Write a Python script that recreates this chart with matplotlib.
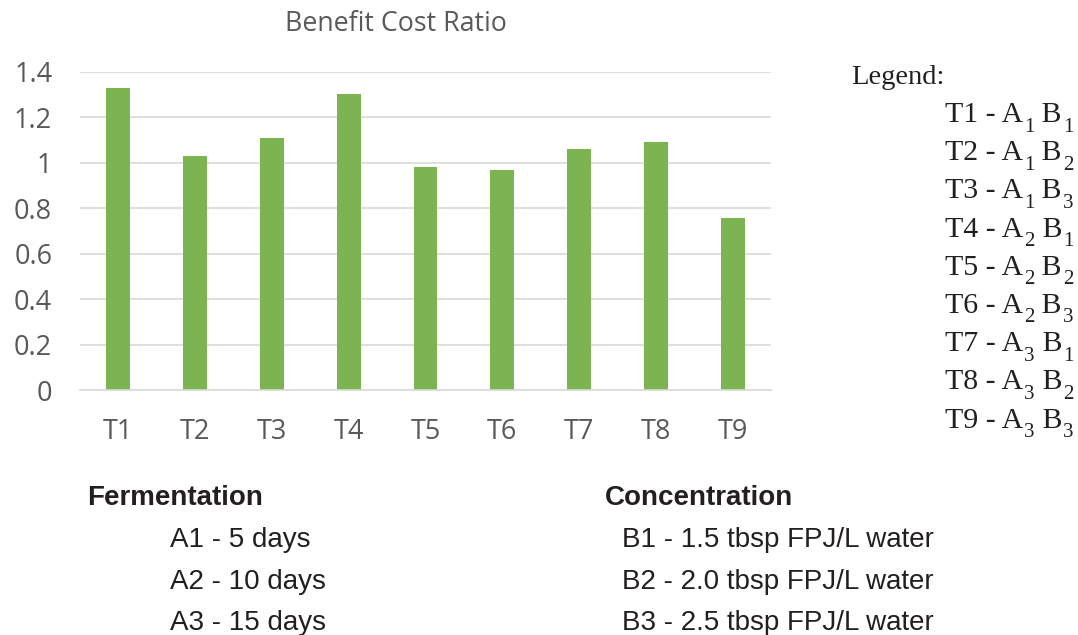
import matplotlib
matplotlib.use("Agg")
import matplotlib.pyplot as plt
import numpy as np

# --- data ---
treatments = ["T1", "T2", "T3", "T4", "T5", "T6", "T7", "T8", "T9"]
bcr = [1.33, 1.03, 1.11, 1.30, 0.98, 0.97, 1.06, 1.09, 0.755]
y_ticks = [0, 0.2, 0.4, 0.6, 0.8, 1.0, 1.2, 1.4]
y_tick_labels = ["0", "0.2", "0.4", "0.6", "0.8", "1", "1.2", "1.4"]

legend_a = ["1", "1", "1", "2", "2", "2", "3", "3", "3"]
legend_b = ["1", "2", "3", "1", "2", "3", "1", "2", "3"]

fermentation = ["A1 - 5 days", "A2 - 10 days", "A3 - 15 days"]
concentration = ["B1 - 1.5 tbsp FPJ/L water",
                 "B2 - 2.0 tbsp FPJ/L water",
                 "B3 - 2.5 tbsp FPJ/L water"]

# --- style ---
BAR_COLOR = "#7cb452"
GRID_COLOR = "#d9d9d9"
TEXT_GRAY = "#595959"
INK = "#231f20"
W, H = 1078, 635

fig = plt.figure(figsize=(W / 100, H / 100), dpi=100)
fig.patch.set_facecolor("white")

# axes box in pixel coords
left_px, right_px = 80, 771
top_px, bottom_px = 71.7, 390.3
ax = fig.add_axes([left_px / W, 1 - bottom_px / H,
                   (right_px - left_px) / W, (bottom_px - top_px) / H])

x = np.arange(len(treatments))
ax.bar(x, bcr, width=0.31, color=BAR_COLOR, zorder=2)

ax.set_xlim(-0.5, len(treatments) - 0.5)
ax.set_ylim(0, 1.4)
ax.set_yticks(y_ticks)
ax.set_yticklabels(y_tick_labels)
ax.set_xticks(x)
ax.set_xticklabels(treatments)
ax.grid(axis="y", color=GRID_COLOR, lw=1.2, zorder=0)
ax.tick_params(length=0, labelsize=19.5, labelcolor=TEXT_GRAY, pad=20)
for lbl in ax.get_xticklabels() + ax.get_yticklabels():
    lbl.set_fontfamily("Open Sans")
for s in ["top", "right", "left"]:
    ax.spines[s].set_visible(False)
ax.spines["bottom"].set_color(GRID_COLOR)
ax.spines["bottom"].set_linewidth(1.2)

fig.text(396 / W, 1 - 24 / H, "Benefit Cost Ratio", ha="center", va="center",
         fontsize=19.3, color=TEXT_GRAY, family="Open Sans")

# legend block (serif, subscripts drawn as separate pieces)
renderer = fig.canvas.get_renderer()


def put(xp, yp, s, size):
    t = fig.text(xp / W, 1 - yp / H, s, ha="left", va="baseline",
                 fontsize=size, family="Liberation Serif", color=INK)
    return t.get_window_extent(renderer).x1


fig.text(851 / W, 1 - 84 / H, "Legend:", ha="left", va="baseline",
         fontsize=20.5, family="Liberation Serif", color=INK)

MAIN, SUB, SUB_DROP = 21.5, 15, 9.5
for i, t in enumerate(treatments):
    base = 122 + i * 38.2
    xe = put(945, base, "%s - A" % t, MAIN)
    xe = put(xe + 1, base + SUB_DROP, legend_a[i], SUB)
    xe = put(xe, base, " B", MAIN)
    put(xe + 1, base + SUB_DROP, legend_b[i], SUB)

# factor descriptions
fig.text(87 / W, 1 - 505 / H, "Fermentation", ha="left", va="baseline",
         fontsize=20, fontweight="bold", family="Liberation Sans", color=INK)
fig.text(605 / W, 1 - 505 / H, "Concentration", ha="left", va="baseline",
         fontsize=20, fontweight="bold", family="Liberation Sans", color=INK)
for i, s in enumerate(fermentation):
    fig.text(170 / W, 1 - (547 + i * 41.6) / H, s, ha="left", va="baseline",
             fontsize=20, family="Liberation Sans", color=INK)
for i, s in enumerate(concentration):
    fig.text(778 / W, 1 - (547 + i * 41.6) / H, s, ha="center", va="baseline",
             fontsize=20, family="Liberation Sans", color=INK)

fig.savefig("out.png", dpi=100)
